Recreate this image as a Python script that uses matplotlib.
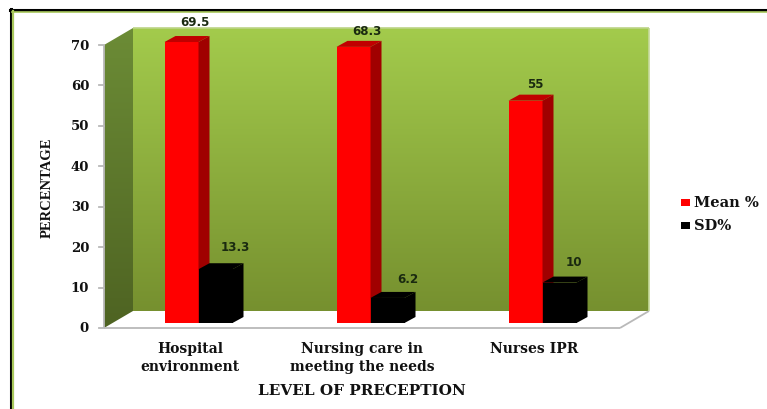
import matplotlib
matplotlib.use("Agg")
import matplotlib.pyplot as plt
import numpy as np
from matplotlib.colors import LinearSegmentedColormap
from matplotlib.patches import Polygon, Rectangle

categories = ["Hospital\nenvironment", "Nursing care in\nmeeting the needs", "Nurses IPR"]
mean_values = [69.5, 68.3, 55]
sd_values = [13.3, 6.2, 10]
mean_labels = ["69.5", "68.3", "55"]
sd_labels = ["13.3", "6.2", "10"]
y_ticks = [0, 10, 20, 30, 40, 50, 60, 70]

W, H = 767, 410
fig = plt.figure(figsize=(W / 100, H / 100), dpi=100, facecolor="white")

# axes covers the front plane of the fake 3d box
left, right, y0, y70 = 104, 620, 329, 46
ax = fig.add_axes([left / W, 1 - y0 / H, (right - left) / W, (y0 - y70) / H])
ax.axis("off")

px_x = 3 / (right - left)
px_y = 70 / (y0 - y70)


def pts(*xy):
    # offsets are given in pixels, from a data point
    return [(x + dx * px_x, y + dy * px_y) for x, y, dx, dy in xy]


def poly(coords, color, z=2):
    p = Polygon(pts(*coords), closed=True, facecolor=color, edgecolor="none", zorder=z, clip_on=False)
    ax.add_patch(p)
    return p


def gradient(coords, top, bottom, y_lo, y_hi, x_lo, x_hi, z=1):
    cmap = LinearSegmentedColormap.from_list("wall", [top, bottom])
    g = np.linspace(0, 1, 256).reshape(-1, 1)
    im = ax.imshow(g, cmap=cmap, aspect="auto", extent=(x_lo, x_hi, y_lo, y_hi), zorder=z)
    im.set_clip_box(fig.bbox)
    im.set_clip_path(poly(coords, "none", z))


def seg(a, b, color, lw):
    (xa, ya), (xb, yb) = pts(a, b)
    ax.plot([xa, xb], [ya, yb], color=color, lw=lw, zorder=3, clip_on=False, solid_capstyle="butt")


dep_x, dep_y = 29, 17
top_val = 70

# back wall and side wall
gradient([(0, 0, dep_x, dep_y), (3, 0, dep_x, dep_y), (3, top_val, dep_x, dep_y), (0, top_val, dep_x, dep_y)],
         "#a3cb4c", "#76902f", dep_y * px_y, top_val + dep_y * px_y, dep_x * px_x, 3 + dep_x * px_x)
gradient([(0, 0, 0, 0), (0, 0, dep_x, dep_y), (0, top_val, dep_x, dep_y), (0, top_val, 0, 0)],
         "#6c8c36", "#4e6322", 0, top_val + dep_y * px_y, 0, dep_x * px_x)
ax.set_xlim(0, 3)
ax.set_ylim(0, 70)

# floor lines and wall edges
edge = "#b9b9b9"
seg((0, 0, 0, 0), (3, 0, 0, 0), edge, 1.3)
seg((3, 0, 0, 0), (3, 0, dep_x, dep_y), edge, 1.3)
seg((0, 0, 0, 0), (0, 70, 0, 0), edge, 1.3)
seg((3, 0, dep_x, dep_y), (3, 70, dep_x, dep_y), "#c5d99a", 1.2)
seg((0, 70, dep_x, dep_y), (3, 70, dep_x, dep_y), "#bcd486", 1.2)

for t in y_ticks:
    ax.plot([-5 * px_x, 0], [t, t], color=edge, lw=1.3, zorder=3, clip_on=False)
    ax.text(-15 * px_x, t, str(t), ha="right", va="center", family="DejaVu Serif",
            fontweight="bold", fontsize=9.5, color="#111111", clip_on=False)

bar_w = 34
off_x, off_y = 8.5, 5
side_x, side_y = 11, 6

# small pixel nudges for the data labels, the original has them placed by hand
mean_nudge = [(0, 6), (0, 1), (-3, 2)]
sd_nudge = [(8, 6), (9, 2), (3, 4)]


def draw_bar(cat, val, shift, front, top, side, z):
    x = cat + 0.5
    l = off_x + shift
    r = l + bar_w
    poly([(x, 0, l, off_y), (x, 0, r, off_y), (x, val, r, off_y), (x, val, l, off_y)], front, z)
    poly([(x, val, l, off_y), (x, val, r, off_y),
          (x, val, r + side_x, off_y + side_y), (x, val, l + side_x, off_y + side_y)], top, z)
    poly([(x, 0, r, off_y), (x, 0, r + side_x, off_y + side_y),
          (x, val, r + side_x, off_y + side_y), (x, val, r, off_y)], side, z)


for i in range(3):
    draw_bar(i, mean_values[i], -bar_w, "#ff0000", "#c00000", "#a00000", 4)
    draw_bar(i, sd_values[i], 0, "#000000", "#000000", "#000000", 5)
    x = i + 0.5
    tx, ty = pts((x, mean_values[i], 4.5 + mean_nudge[i][0], 20 + mean_nudge[i][1]))[0]
    ax.text(tx, ty, mean_labels[i], ha="center", va="center", fontsize=8.6, fontweight="bold",
            color="#1a2a10", clip_on=False, zorder=6)
    tx, ty = pts((x, sd_values[i], 37 + sd_nudge[i][0], 22 + sd_nudge[i][1]))[0]
    ax.text(tx, ty, sd_labels[i], ha="center", va="center", fontsize=8.6, fontweight="bold",
            color="#1a2a10", clip_on=False, zorder=6)
    tx, ty = pts((x, 0, 0, -13))[0]
    ax.text(tx, ty, categories[i], ha="center", va="top", family="DejaVu Serif",
            fontweight="bold", fontsize=10, color="#111111", linespacing=1.4, clip_on=False, zorder=6)

# frame, axis titles and legend in figure pixels
fig.add_artist(plt.Line2D([10.5 / W, 10.5 / W], [0, 1 - 10 / H], color="black", lw=2.2))
fig.add_artist(plt.Line2D([10 / W, 1], [1 - 11 / H, 1 - 11 / H], color="black", lw=2.2))
fig.add_artist(plt.Line2D([13 / W, 13 / W], [0, 1 - 12 / H], color="#a9c85c", lw=1.6))
fig.add_artist(plt.Line2D([12 / W, 1], [1 - 13 / H, 1 - 13 / H], color="#a9c85c", lw=1.2))

fig.text(47 / W, 1 - 188 / H, "PERCENTAGE", rotation=90, ha="center", va="center",
         family="Liberation Serif", fontweight="bold", fontsize=10.5, color="#111111")
fig.text(362 / W, 1 - 391 / H, "LEVEL OF PRECEPTION", ha="center", va="center",
         family="DejaVu Serif", fontweight="bold", fontsize=11, color="#111111")

for y, name, col in [(203, "Mean %", "#ff0000"), (226, "SD%", "#000000")]:
    fig.add_artist(Rectangle((681 / W, 1 - (y + 3.5) / H), 9 / W, 7 / H, facecolor=col, edgecolor="none",
                             transform=fig.transFigure))
    fig.text(694 / W, 1 - y / H, name, ha="left", va="center", family="DejaVu Serif",
             fontweight="bold", fontsize=10.5, color="#111111")

fig.savefig("out.png", dpi=100)
